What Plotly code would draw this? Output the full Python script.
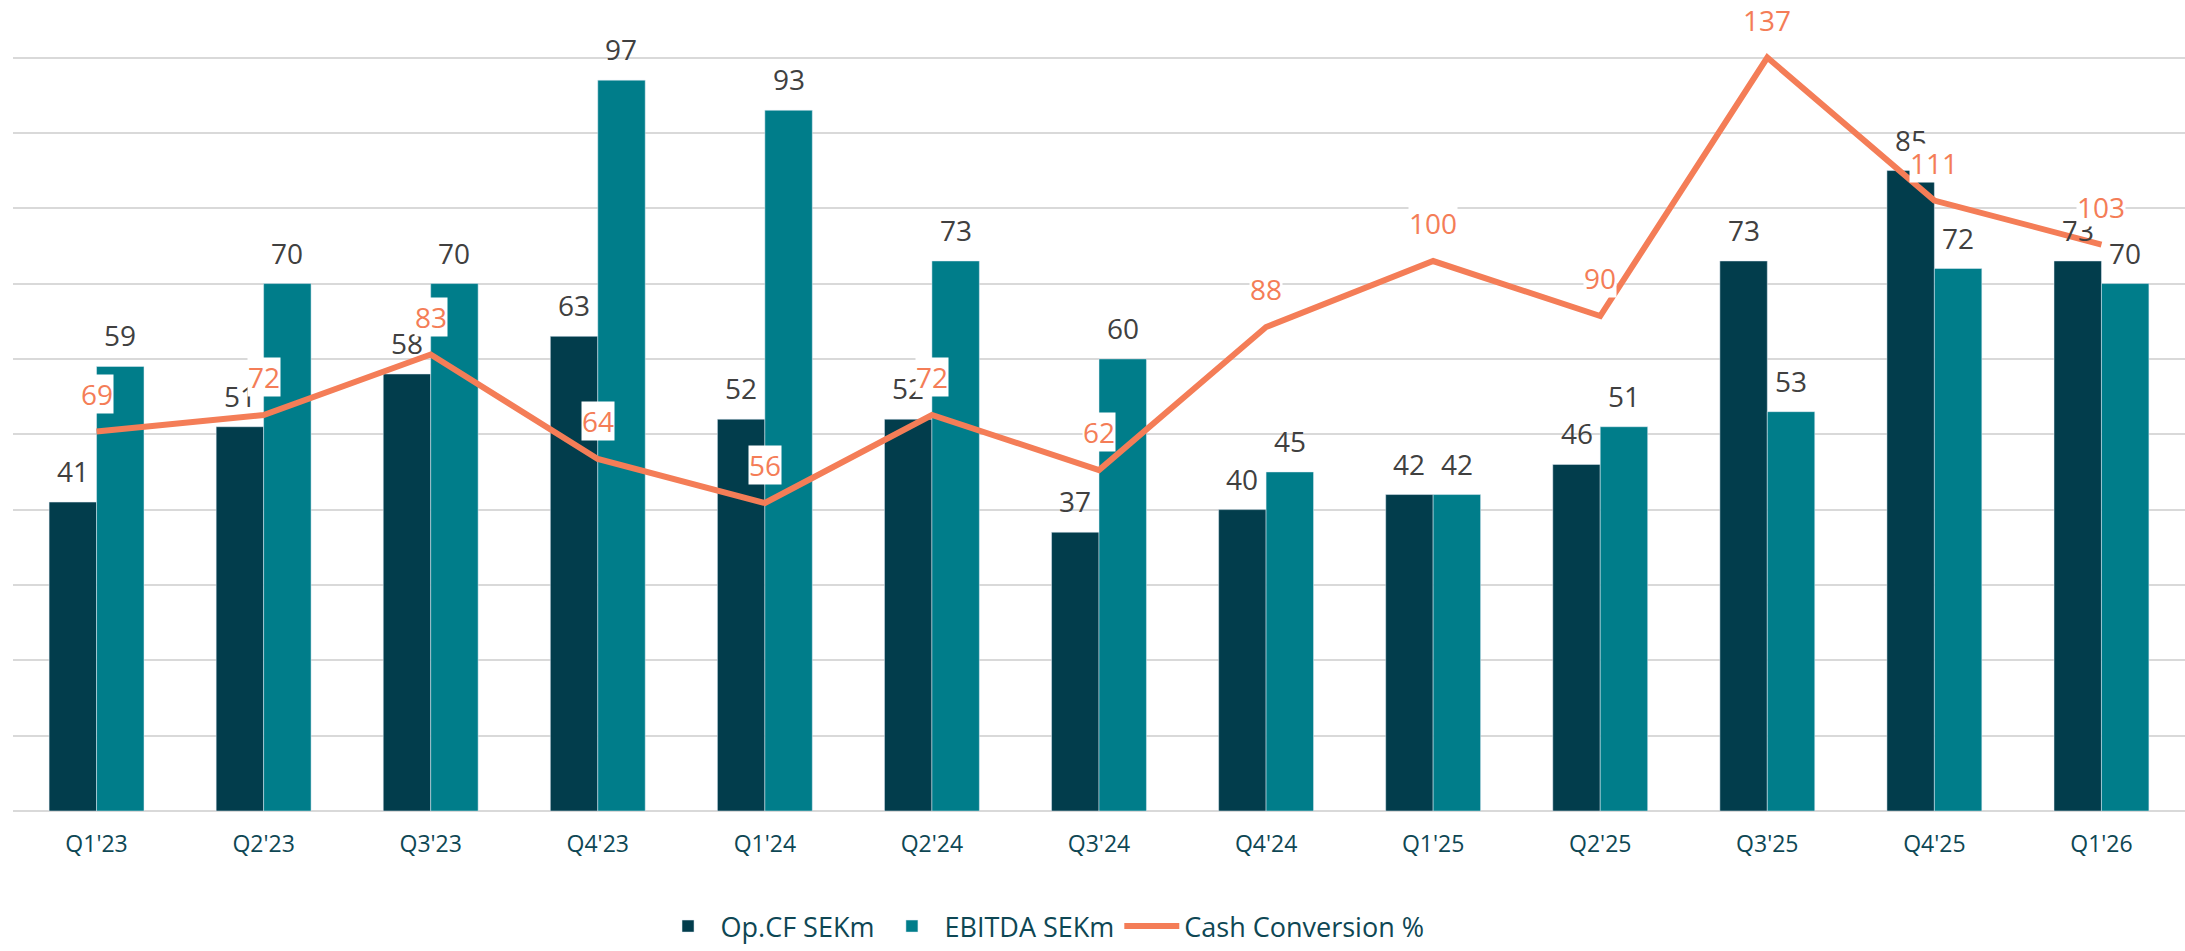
import plotly.graph_objects as go

quarters = ["Q1'23", "Q2'23", "Q3'23", "Q4'23", "Q1'24", "Q2'24", "Q3'24",
            "Q4'24", "Q1'25", "Q2'25", "Q3'25", "Q4'25", "Q1'26"]
op_cf = [41, 51, 58, 63, 52, 52, 37, 40, 42, 46, 73, 85, 73]
ebitda = [59, 70, 70, 97, 93, 73, 60, 45, 42, 51, 53, 72, 70]
cash_conv = [69, 72, 83, 64, 56, 72, 62, 88, 100, 90, 137, 111, 103]

DARK = "#023D4C"
TEAL = "#007D8A"
ORANGE = "#F47D57"
LABEL = "#404040"
AXIS_TXT = "#0E4754"
FONT = "Open Sans"

W, H = 2185, 951
ML, MR, MT, MB = 13, 0, 50, 130
BARGAP = 0.432
plot_w = W - ML - MR
bar_w = plot_w / len(quarters) * (1 - BARGAP) / 2

fig = go.Figure()
fig.add_trace(go.Bar(x=quarters, y=op_cf, name="Op.CF SEKm", marker_color=DARK))
fig.add_trace(go.Bar(x=quarters, y=ebitda, name="EBITDA SEKm", marker_color=TEAL))
fig.add_trace(go.Scatter(
    x=quarters, y=cash_conv, name="Cash Conversion %", yaxis="y2",
    mode="lines", line=dict(color=ORANGE, width=6), cliponaxis=False,
))

for series, sign in ((op_cf, -1), (ebitda, 1)):
    for q, v in zip(quarters, series):
        fig.add_annotation(
            x=q, y=v, xref="x", yref="y", text=str(v), showarrow=False,
            xshift=sign * bar_w / 2, yshift=31,
            font=dict(size=28, color=LABEL, family=FONT),
        )

for q, v in zip(quarters, cash_conv):
    fig.add_annotation(
        x=q, y=v, xref="x", yref="y2", text=str(v), showarrow=False,
        yshift=38, bgcolor="white", borderpad=0,
        font=dict(size=28, color=ORANGE, family=FONT),
    )

fig.update_layout(
    width=W, height=H,
    margin=dict(l=ML, r=MR, t=MT, b=MB),
    paper_bgcolor="white", plot_bgcolor="white",
    barmode="group", bargap=BARGAP, bargroupgap=0,
    font=dict(family=FONT),
    showlegend=True,
    legend=dict(
        orientation="h", x=0.474, xanchor="center", y=-0.152, yanchor="middle",
        font=dict(size=27, color=AXIS_TXT, family=FONT),
        itemwidth=55, traceorder="normal",
    ),
    xaxis=dict(
        showgrid=False, showline=False, ticks="", zeroline=False,
        tickfont=dict(size=23, color=AXIS_TXT, family=FONT),
        ticklabelstandoff=17,
    ),
    yaxis=dict(
        range=[0, 101], tick0=0, dtick=10, showticklabels=False, ticks="",
        showgrid=True, gridcolor="#D9D9D9", gridwidth=1.5,
        zeroline=True, zerolinecolor="#D9D9D9", zerolinewidth=2,
        showline=False,
    ),
    yaxis2=dict(
        range=[0, 138.37], overlaying="y", side="right", showgrid=False,
        showticklabels=False, ticks="", zeroline=False, showline=False,
    ),
)

fig.write_html(
    "out.html",
    config={"displayModeBar": False},
    post_script="document.body.style.margin='0';document.body.style.overflow='hidden';",
)
